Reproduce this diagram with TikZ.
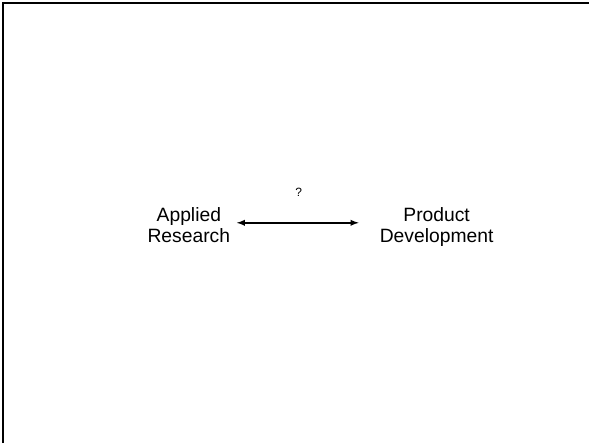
\documentclass[tikz,border=0pt]{standalone}
\usepackage{fontspec}
\setmainfont{Liberation Sans}
\begin{document}
\begin{tikzpicture}[x=1pt,y=-1pt,
  lbl/.style={align=center,font=\fontsize{19.3}{21.5}\selectfont,inner sep=0pt,anchor=base},
  small/.style={font=\fontsize{12}{14}\selectfont,inner sep=0pt,anchor=base},
  frame/.style={line width=2.2pt},
  conn/.style={line width=1.8pt,<->,>=latex}]
\useasboundingbox (0,0) rectangle (589.5,443.5);
\fill[white] (0,0) rectangle (589.5,443.5);
\draw[frame] (3,443.5) -- (3,3) -- (589.5,3);
\node[lbl] (ar) at (189,243.2) {Applied\\Research};
\node[lbl] (pd) at (437,243.2) {Product\\Development};
\coordinate (a1) at (237,223);
\coordinate (a2) at (359,223);
\draw[conn] (a1) -- (a2);
\node[small] (q) at (299,197) {?};
\end{tikzpicture}
\end{document}
